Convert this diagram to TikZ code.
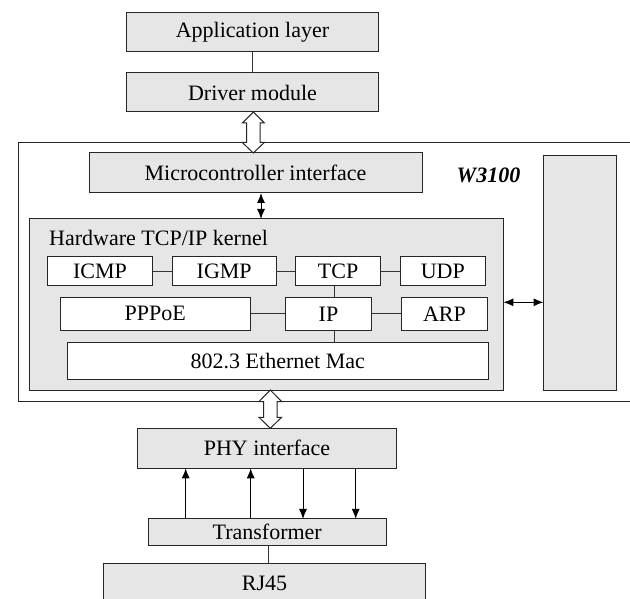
\documentclass[tikz,border=0pt]{standalone}
\usepackage{fontspec}
\setmainfont{Liberation Serif}
\usetikzlibrary{arrows.meta,calc}
\definecolor{boxgray}{RGB}{230,230,230}
\begin{document}
\begin{tikzpicture}[x=1pt,y=-1pt,
  every node/.style={font=\fontsize{22}{26}\selectfont},
  gbox/.style={draw=black!85,line width=1pt,fill=boxgray,inner sep=0pt,outer sep=0pt},
  wbox/.style={draw=black!85,line width=1pt,fill=white,inner sep=0pt,outer sep=0pt},
  link/.style={draw=black!80,line width=0.9pt},
  arr/.style={draw=black,line width=1pt,-{Latex[length=10pt,width=8pt]}},
  darr/.style={draw=black,line width=1pt,{Latex[length=10pt,width=8pt]}-{Latex[length=10pt,width=8pt]}},
  openarr/.style={draw=black!85,line width=1pt,fill=white,line join=miter}]
\useasboundingbox (0,0) rectangle (630,599);
% outer W3100 box (right edge outside the picture)
\node[draw=black!85,line width=1pt,fill=white,inner sep=0pt,minimum width=624,minimum height=258.5] (outer) at (330,271.75) {};
% top stack
\node[gbox,minimum width=252,minimum height=39] (app) at (252.5,32.5) {Application layer};
\node[gbox,minimum width=252,minimum height=39] (drv) at (252.5,92.5) {Driver module};
\draw[link] (app.south) -- (drv.south |- drv.north);
% microcontroller interface
\node[gbox,minimum width=333,minimum height=40] (micro) at (255.5,173) {Microcontroller interface};
\node[font=\fontsize{22}{26}\selectfont\bfseries\itshape] (w3100) at (488.5,175.5) {W3100};
% right tall box
\node[gbox,minimum width=73,minimum height=234] (rbox) at (580,273) {};
% kernel
\node[gbox,minimum width=474.4,minimum height=171] (kernel) at (266.2,304.5) {};
\node[anchor=west,inner sep=0pt] (klabel) at (49,238) {Hardware TCP/IP kernel};
\node[wbox,minimum width=105,minimum height=29] (icmp) at (100,271.2) {ICMP};
\node[wbox,minimum width=104.4,minimum height=29] (igmp) at (224.2,271.2) {IGMP};
\node[wbox,minimum width=85.6,minimum height=29] (tcp) at (338.1,271.2) {TCP};
\node[wbox,minimum width=84.4,minimum height=29] (udp) at (442.8,271.2) {UDP};
\node[wbox,minimum width=189.7,minimum height=32.3] (pppoe) at (155.2,313.9) {PPPoE};
\node[wbox,minimum width=85.5,minimum height=32.3] (ip) at (328.5,313.9) {IP};
\node[wbox,minimum width=86,minimum height=32.3] (arp) at (444.4,313.9) {ARP};
\node[wbox,minimum width=420.5,minimum height=36.6] (mac) at (277.8,361) {802.3 Ethernet Mac};
\coordinate (lx) at (334.3,0);
\draw[link] (icmp.east) -- (igmp.west);
\draw[link] (igmp.east) -- (tcp.west);
\draw[link] (tcp.east) -- (udp.west);
\draw[link] (pppoe.east) -- (ip.west);
\draw[link] (ip.east) -- (arp.west);
\draw[link] (tcp.south -| lx) -- (ip.north -| lx);
\draw[link] (ip.south -| lx) -- (mac.north -| lx);
% arrows inside W3100
\coordinate (ax1) at (261,0);
\draw[darr] (micro.south -| ax1) -- (kernel.north -| ax1);
\coordinate (ay1) at (0,302.3);
\draw[darr] (kernel.east |- ay1) -- (rbox.west |- ay1);
% bottom stack
\node[gbox,minimum width=259.4,minimum height=40] (phy) at (267,448.3) {PHY interface};
\node[gbox,minimum width=237.7,minimum height=26.7] (tr) at (267.2,532.3) {Transformer};
\node[gbox,minimum width=322.4,minimum height=40] (rj) at (264.5,583) {RJ45};
\coordinate (lx2) at (268,0);
\draw[link] (tr.south -| lx2) -- (rj.north -| lx2);
\coordinate (c1) at (185.7,0);
\coordinate (c2) at (250.7,0);
\coordinate (c3) at (303,0);
\coordinate (c4) at (355.7,0);
\draw[arr] (tr.north -| c1) -- (phy.south -| c1);
\draw[arr] (tr.north -| c2) -- (phy.south -| c2);
\draw[arr] (phy.south -| c3) -- (tr.north -| c3);
\draw[arr] (phy.south -| c4) -- (tr.north -| c4);
% open double arrows
\coordinate (ox1) at (253.3,0);
\draw[openarr] let \p1=(drv.south -| ox1), \p2=(micro.north -| ox1) in
  (\x1,\y1) -- (\x1+11pt,\y1-11pt) -- (\x1+6.8pt,\y1-11pt) -- (\x1+6.8pt,\y2+10.5pt)
  -- (\x1+11pt,\y2+10.5pt) -- (\x1,\y2) -- (\x1-11pt,\y2+10.5pt) -- (\x1-6.8pt,\y2+10.5pt)
  -- (\x1-6.8pt,\y1-11pt) -- (\x1-11pt,\y1-11pt) -- cycle;
\coordinate (ox2) at (270.3,0);
\draw[openarr] let \p1=(kernel.south -| ox2), \p2=(phy.north -| ox2) in
  (\x1,\y1) -- (\x1+11.3pt,\y1-11.5pt) -- (\x1+6.7pt,\y1-11.5pt) -- (\x1+6.7pt,\y2+11pt)
  -- (\x1+11.3pt,\y2+11pt) -- (\x1,\y2) -- (\x1-11.3pt,\y2+11pt) -- (\x1-6.7pt,\y2+11pt)
  -- (\x1-6.7pt,\y1-11.5pt) -- (\x1-11.3pt,\y1-11.5pt) -- cycle;
\end{tikzpicture}
\end{document}
